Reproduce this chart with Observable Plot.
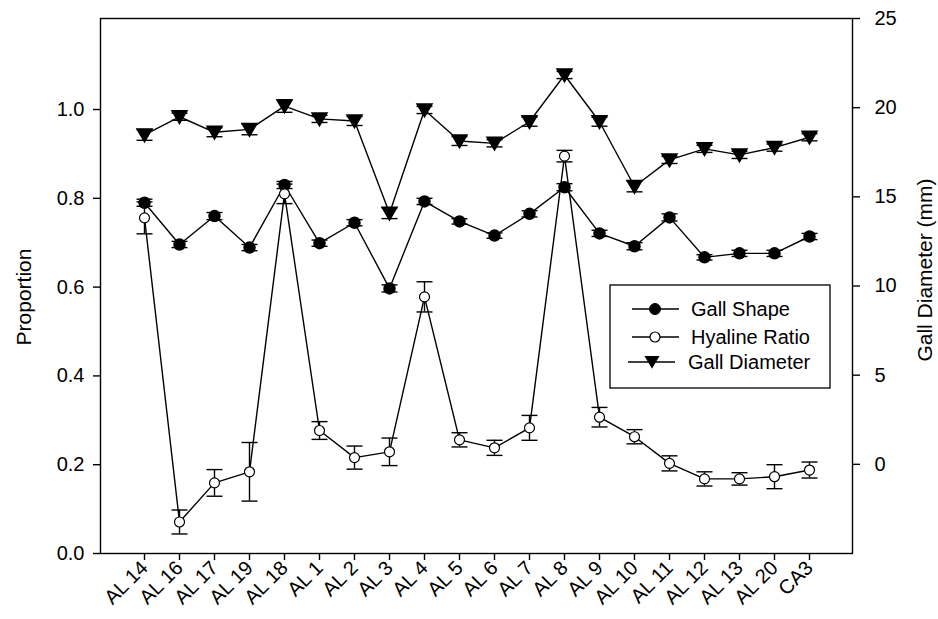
<!DOCTYPE html>
<html><head><meta charset="utf-8">
<script src="https://cdn.jsdelivr.net/npm/d3@7"></script>
<script src="https://cdn.jsdelivr.net/npm/@observablehq/plot@0.6"></script>
<style>body{margin:0;background:#fff;} #chart svg{display:block;}</style>
</head><body><div id="chart"></div>
<script>
const sites = ["AL 14","AL 16","AL 17","AL 19","AL 18","AL 1","AL 2","AL 3","AL 4","AL 5","AL 6","AL 7","AL 8","AL 9","AL 10","AL 11","AL 12","AL 13","AL 20","CA3"];
const gallShape    = [0.790,0.696,0.760,0.689,0.830,0.699,0.745,0.597,0.793,0.748,0.716,0.765,0.825,0.721,0.692,0.757,0.667,0.676,0.676,0.714];
const gallShapeErr = [0.008,0.007,0.008,0.007,0.008,0.007,0.007,0.008,0.007,0.006,0.006,0.007,0.008,0.007,0.008,0.008,0.006,0.007,0.007,0.007];
const hyaline      = [0.756,0.071,0.159,0.184,0.810,0.277,0.216,0.229,0.578,0.256,0.238,0.283,0.895,0.307,0.263,0.203,0.168,0.168,0.173,0.188];
const hyalineErr   = [0.036,0.027,0.030,0.066,0.022,0.020,0.026,0.031,0.034,0.016,0.017,0.028,0.013,0.022,0.016,0.017,0.016,0.014,0.027,0.018];
const diameter     = [18.47,19.49,18.62,18.78,20.09,19.37,19.25,14.08,19.87,18.13,18.00,19.21,21.83,19.21,15.58,17.07,17.69,17.35,17.76,18.34];
const diameterErr  = [0.30,0.20,0.25,0.30,0.35,0.20,0.25,0.30,0.20,0.25,0.20,0.25,0.20,0.25,0.30,0.20,0.20,0.20,0.20,0.20];
const leftTicks  = [0, 0.2, 0.4, 0.6, 0.8, 1.0];
const rightTicks = [0, 5, 10, 15, 20, 25];
const legendLabels = ["Gall Shape", "Hyaline Ratio", "Gall Diameter"];
const leftTitle = "Proportion";
const rightTitle = "Gall Diameter (mm)";

// right (Gall Diameter, mm) axis mapped onto the left (Proportion) scale
const diamToProp = d3.scaleLinear().domain([-5, 25]).range([0, 1.205]);

const rows = sites.map((s, i) => ({
  site: s,
  shape: gallShape[i], shapeLo: gallShape[i] - gallShapeErr[i], shapeHi: gallShape[i] + gallShapeErr[i],
  hy: hyaline[i], hyLo: hyaline[i] - hyalineErr[i], hyHi: hyaline[i] + hyalineErr[i],
  dm: diamToProp(diameter[i]), dmLo: diamToProp(diameter[i] - diameterErr[i]), dmHi: diamToProp(diameter[i] + diameterErr[i])
}));

const capSymbol = {draw(ctx, size) { const r = Math.sqrt(size / Math.PI); ctx.moveTo(-r, 0); ctx.lineTo(r, 0); }};
const triDown = {draw(ctx, size) { const r = Math.sqrt(size / Math.PI); ctx.moveTo(-r, -r * 0.8); ctx.lineTo(r, -r * 0.8); ctx.lineTo(0, r * 0.9); ctx.closePath(); }};

const SW = 1.4;
const FONT = "'Liberation Sans', Arial, sans-serif";
function errMarks(lo, hi) {
  return [
    Plot.ruleX(rows, {x: "site", y1: lo, y2: hi, stroke: "black", strokeWidth: SW}),
    Plot.dot(rows, {x: "site", y: lo, symbol: capSymbol, r: 8, stroke: "black", strokeWidth: SW}),
    Plot.dot(rows, {x: "site", y: hi, symbol: capSymbol, r: 8, stroke: "black", strokeWidth: SW})
  ];
}

const chart = Plot.plot({
  width: 938, height: 619,
  marginLeft: 100, marginRight: 86, marginTop: 18, marginBottom: 66,
  style: {fontFamily: FONT, fontSize: "20px", background: "white", color: "black"},
  x: {type: "point", domain: sites, padding: 1},
  y: {domain: [0, 1.205]},
  marks: [
    Plot.frame({stroke: "black", strokeWidth: SW}),
    Plot.axisY(leftTicks, {anchor: "left", tickFormat: d3.format(".1f"), tickSize: 7, tickPadding: 9, label: null, strokeWidth: SW}),
    Plot.axisY(rightTicks.map(diamToProp), {anchor: "right", tickFormat: d => String(Math.round(diamToProp.invert(d))), tickSize: 7, tickPadding: 15, label: null, strokeWidth: SW}),
    Plot.axisX({tickRotate: -45, tickSize: 7, tickPadding: 4, label: null, strokeWidth: SW}),
    // Gall Diameter
    ...errMarks("dmLo", "dmHi"),
    Plot.line(rows, {x: "site", y: "dm", stroke: "black", strokeWidth: SW}),
    Plot.dot(rows, {x: "site", y: "dm", symbol: triDown, r: 7.5, fill: "black", stroke: "black"}),
    // Gall Shape
    ...errMarks("shapeLo", "shapeHi"),
    Plot.line(rows, {x: "site", y: "shape", stroke: "black", strokeWidth: SW}),
    Plot.dot(rows, {x: "site", y: "shape", r: 5.5, fill: "black", stroke: "black"}),
    // Hyaline Ratio
    ...errMarks("hyLo", "hyHi"),
    Plot.line(rows, {x: "site", y: "hy", stroke: "black", strokeWidth: SW}),
    Plot.dot(rows, {x: "site", y: "hy", r: 5, fill: "white", stroke: "black", strokeWidth: 1.2})
  ]
});
document.getElementById("chart").appendChild(chart);

const svg = d3.select(chart);
// axis titles
svg.append("text").attr("transform", "translate(24,297) rotate(-90)")
  .attr("text-anchor", "middle").attr("dy", "0.35em").attr("font-family", FONT).attr("font-size", 21).attr("fill", "black").text(leftTitle);
svg.append("text").attr("transform", "translate(925,270) rotate(-90)")
  .attr("text-anchor", "middle").attr("dy", "0.35em").attr("font-family", FONT).attr("font-size", 21).attr("fill", "black").text(rightTitle);

// Legend box inside plot area
const lg = svg.append("g").attr("font-family", FONT).attr("font-size", 20).attr("text-anchor", "start");
lg.append("rect").attr("x", 610).attr("y", 285).attr("width", 220).attr("height", 103)
  .attr("fill", "white").attr("stroke", "black").attr("stroke-width", 1.3);
const ly = [309, 337, 362];
const sym = [
  g => g.append("circle").attr("r", 5.5).attr("fill", "black").attr("stroke", "black"),
  g => g.append("circle").attr("r", 5).attr("fill", "white").attr("stroke", "black").attr("stroke-width", 1.2),
  g => g.append("path").attr("d", d3.symbol(triDown, 7.5 * 7.5 * Math.PI)()).attr("fill", "black")
];
legendLabels.forEach((t, i) => {
  const g = lg.append("g").attr("transform", `translate(0,${ly[i]})`);
  g.append("line").attr("x1", i === 2 ? 628 : 632).attr("x2", i === 2 ? 675 : 679).attr("stroke", "black").attr("stroke-width", SW);
  const s = g.append("g").attr("transform", `translate(${i === 2 ? 652 : 655},0)`);
  sym[i](s);
  g.append("text").attr("x", i === 2 ? 688 : 691).attr("dy", "0.35em").attr("text-anchor", "start").attr("fill", "black").text(t);
});
</script>
</body></html>
